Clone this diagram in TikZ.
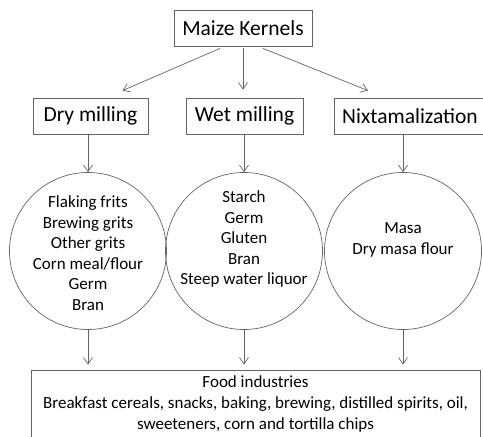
\documentclass[tikz,border=0pt]{standalone}
\usepackage{fontspec}
\setmainfont{Carlito}
\usepackage{tikz}
\usetikzlibrary{arrows.meta}
\definecolor{linegray}{RGB}{100,100,100}

\begin{document}
\begin{tikzpicture}[x=1pt,y=-1pt,
	box/.style={draw=linegray,line width=0.8pt,minimum height=36pt,inner sep=0pt,font=\fontsize{21.5}{25}\selectfont},
	prod/.style={draw=linegray,line width=0.7pt,circle,minimum size=157pt,inner sep=0pt},
	list/.style={align=center,font=\fontsize{17}{20.5}\selectfont},
	arr/.style={draw=linegray,line width=0.7pt,-{Straight Barb[length=6.5pt,width=9pt]}}]
	\useasboundingbox (0,0) rectangle (483,437);
	\node[box,minimum width=138pt] (kernels) at (243,28) {Maize Kernels};
	\node[box,minimum width=115pt] (dry) at (90.5,116) {Dry milling};
	\node[box,minimum width=117pt] (wet) at (244.5,116) {Wet milling};
	\node[box,minimum width=152pt] (nixta) at (410,116) {Nixtamalization};
	\node[prod] (dryprod) at (88,251) {};
	\node[prod] (wetprod) at (244,251) {};
	\node[prod] (nixtaprod) at (403,251) {};
	\node[list] (drylist) at (88,253) {Flaking frits\\Brewing grits\\Other grits\\Corn meal/flour\\Germ\\Bran};
	\node[list] (wetlist) at (244,239) {Starch\\Germ\\Gluten\\Bran\\Steep water liquor};
	\node[list] (nixtalist) at (403,240) {Masa\\Dry masa flour};
	\node[box,font=\fontsize{17}{21}\selectfont,align=center,minimum width=449pt,minimum height=68pt] (food) at (255.5,404) {Food industries\\Breakfast cereals, snacks, baking, brewing, distilled spirits, oil,\\sweeteners, corn and tortilla chips};
	\draw[arr] ([xshift=-23pt,yshift=-2pt]kernels.south) -- ([xshift=32pt,yshift=7pt]dry.north);
	\draw[arr] ([yshift=-2pt]kernels.south) -- ([yshift=8pt]kernels.south |- wet.north);
	\draw[arr] ([xshift=20pt,yshift=-2pt]kernels.south) -- ([xshift=-42pt,yshift=7pt]nixta.north);
	\draw[arr] (dryprod.north |- dry.south) -- (dryprod.north);
	\draw[arr] (wetprod.north |- wet.south) -- (wetprod.north);
	\draw[arr] (nixtaprod.north |- nixta.south) -- (nixtaprod.north);
	\draw[arr] (dryprod.south) -- ([yshift=5pt]dryprod.south |- food.north);
	\draw[arr] (wetprod.south) -- ([yshift=5pt]wetprod.south |- food.north);
	\draw[arr] (nixtaprod.south) -- ([yshift=5pt]nixtaprod.south |- food.north);
\end{tikzpicture}
\end{document}
